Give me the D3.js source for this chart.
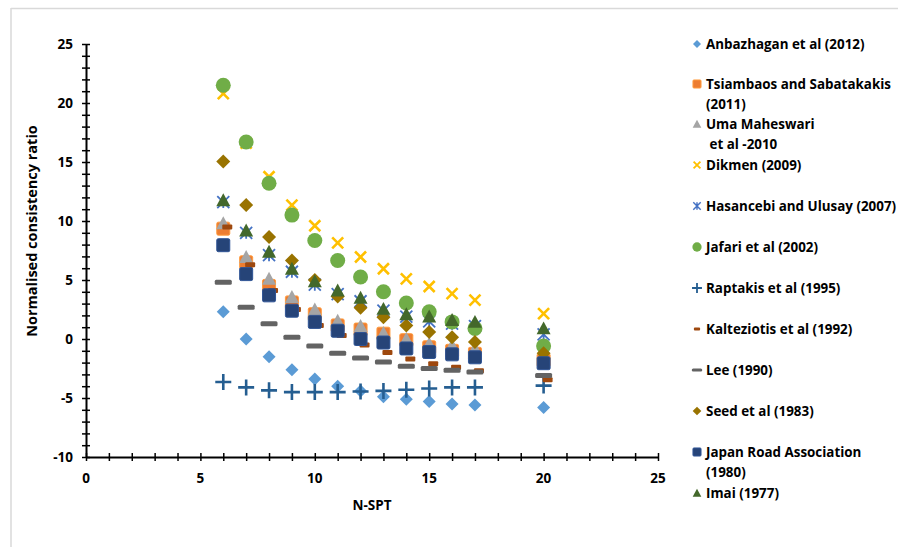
<!DOCTYPE html>
<html>
<head>
<style>
body { margin:0; background:#fff; }
svg text { font-family: "Open Sans", "Noto Sans", sans-serif; font-weight:bold; fill:#000; }
</style>
</head>
<body>
<svg id="chart" width="898" height="547"></svg>
<script src="https://d3js.org/d3.v7.min.js"></script>
<script>

// N-SPT values
let nspt = [6, 7, 8, 9, 10, 11, 12, 13, 14, 15, 16, 17, 20];

// normalised consistency ratio, per study
let anbazhagan  = [2.3, 0.0, -1.5, -2.6, -3.4, -4.0, -4.4, -4.9, -5.1, -5.3, -5.5, -5.6, -5.8];
let tsiambaos   = [9.35, 6.5, 4.5, 3.1, 2.1, 1.15, 0.8, 0.45, -0.1, -0.7, -1.0, -1.25, -1.8];
let umaMaheswari = [9.8, 6.95, 5.1, 3.55, 2.5, 1.55, 1.1, 0.5, 0.0, -0.4, -0.55, -0.8, -1.9];
let dikmen      = [20.8, 16.6, 13.75, 11.35, 9.6, 8.15, 6.95, 5.95, 5.1, 4.45, 3.85, 3.3, 2.15];
let hasancebi   = [11.6, 9.0, 7.1, 5.7, 4.6, 3.8, 3.2, 2.4, 1.9, 1.5, 1.3, 1.1, 0.4];
let jafari      = [21.5, 16.7, 13.2, 10.5, 8.35, 6.65, 5.25, 4.0, 3.05, 2.3, 1.45, 0.9, -0.6];
let raptakis    = [-3.65, -4.1, -4.35, -4.5, -4.5, -4.5, -4.45, -4.4, -4.3, -4.2, -4.1, -4.1, -3.95];
let kalteziotis = [9.5, 6.3, 4.1, 2.5, 1.15, 0.3, -0.5, -1.15, -1.7, -2.1, -2.4, -2.7, -3.45];
let lee         = [4.8, 2.7, 1.3, 0.15, -0.6, -1.2, -1.6, -1.95, -2.3, -2.5, -2.65, -2.8, -3.1];
let seed        = [15.05, 11.35, 8.65, 6.65, 5.0, 3.6, 2.65, 1.85, 1.15, 0.6, 0.15, -0.25, -1.2];
let japanRoad   = [7.95, 5.5, 3.7, 2.4, 1.45, 0.7, 0.0, -0.3, -0.8, -1.1, -1.3, -1.55, -2.05];
let imai        = [11.75, 9.2, 7.4, 5.95, 4.9, 4.1, 3.5, 2.55, 2.1, 1.9, 1.6, 1.45, 0.9];

let xTicks = [0, 5, 10, 15, 20, 25];
let yTicks = [-10, -5, 0, 5, 10, 15, 20, 25];

let series = [
  {name: ["Anbazhagan et al (2012)"], values: anbazhagan, kind: "diamond", color: "#5B9BD5"},
  {name: ["Tsiambaos and Sabatakakis", "(2011)"], values: tsiambaos, kind: "square", color: "#ED7D31"},
  {name: ["Uma Maheswari", " et al -2010"], values: umaMaheswari, kind: "triangle", color: "#A5A5A5"},
  {name: ["Dikmen (2009)"], values: dikmen, kind: "x", color: "#FFC000"},
  {name: ["Hasancebi and Ulusay (2007)"], values: hasancebi, kind: "star", color: "#4472C4"},
  {name: ["Jafari et al (2002)"], values: jafari, kind: "circle", color: "#70AD47"},
  {name: ["Raptakis et al (1995)"], values: raptakis, kind: "plus", color: "#255E91"},
  {name: ["Kalteziotis et al (1992)"], values: kalteziotis, kind: "shortdash", color: "#9E480E"},
  {name: ["Lee (1990)"], values: lee, kind: "dash", color: "#636363"},
  {name: ["Seed et al (1983)"], values: seed, kind: "diamond2", color: "#997300"},
  {name: ["Japan Road Association", "(1980)"], values: japanRoad, kind: "square", color: "#264478"},
  {name: ["Imai (1977)"], values: imai, kind: "triangle", color: "#43682B"}
];

let svg = d3.select("#chart");

// chart frame
svg.append("line").attr("x1", 11).attr("x2", 898).attr("y1", 8.5).attr("y2", 8.5)
  .attr("stroke", "#d9d9d9").attr("stroke-width", 1.5);
svg.append("line").attr("x1", 11).attr("x2", 11).attr("y1", 8).attr("y2", 547)
  .attr("stroke", "#d9d9d9").attr("stroke-width", 1.5);

let x = d3.scaleLinear().domain([0, 25]).range([86, 658]);
let y = d3.scaleLinear().domain([-10, 25]).range([457, 44]);

// axes, ticks cross the axis line
let xAxisG = svg.append("g").attr("transform", "translate(0," + y(-10) + ")");
xAxisG.call(d3.axisBottom(x).tickValues(d3.range(0, 26)).tickSizeInner(4).tickSizeOuter(0).tickFormat(""));
xAxisG.selectAll(".tick line").attr("y1", -4).attr("stroke", "#000").attr("stroke-width", 1.5);
xAxisG.select(".domain").attr("stroke", "#000").attr("stroke-width", 2);

let yAxisG = svg.append("g").attr("transform", "translate(" + x(0) + ",0)");
yAxisG.call(d3.axisLeft(y).tickValues(d3.range(-10, 26)).tickSizeInner(4).tickSizeOuter(0).tickFormat(""));
yAxisG.selectAll(".tick line").attr("x1", 4).attr("stroke", "#000").attr("stroke-width", 1.5);
yAxisG.select(".domain").attr("stroke", "#000").attr("stroke-width", 2);

svg.selectAll(".xlab").data(xTicks).enter().append("text")
  .attr("x", d => x(d)).attr("y", y(-10) + 26)
  .attr("text-anchor", "middle").attr("font-size", 13.5).text(d => d);

svg.selectAll(".ylab").data(yTicks).enter().append("text")
  .attr("x", x(0) - 13).attr("y", d => y(d) + 5)
  .attr("text-anchor", "end").attr("font-size", 13.5).text(d => d);

svg.append("text").attr("x", 372).attr("y", 510).attr("text-anchor", "middle")
  .attr("font-size", 13.5).text("N-SPT");
svg.append("text").attr("transform", "translate(37,231) rotate(-90)")
  .attr("text-anchor", "middle").attr("font-size", 14.5).text("Normalised consistency ratio");

// draw a marker of given kind into group g, scale s
function drawMarker(g, kind, color, s) {
  if (kind === "diamond" || kind === "diamond2") {
    let r = (kind === "diamond" ? 6.5 : 7) * s;
    g.append("path").attr("d", "M0," + -r + "L" + r + ",0L0," + r + "L" + -r + ",0Z")
      .attr("fill", color);
  } else if (kind === "square") {
    let h = 6.5 * s;
    g.append("rect").attr("x", -h).attr("y", -h).attr("width", 2 * h).attr("height", 2 * h)
      .attr("rx", 1.5 * s).attr("fill", color)
      .attr("stroke", d3.color(color).brighter(0.6)).attr("stroke-width", 1);
  } else if (kind === "triangle") {
    let r = 7 * s;
    g.append("path").attr("d", "M0," + -r + "L" + r + "," + r * 0.85 + "L" + -r + "," + r * 0.85 + "Z")
      .attr("fill", color);
  } else if (kind === "x") {
    let r = 5.5 * s;
    g.append("path").attr("d", "M" + -r + "," + -r + "L" + r + "," + r + "M" + r + "," + -r + "L" + -r + "," + r)
      .attr("stroke", color).attr("stroke-width", 2.6 * Math.max(s, 0.7)).attr("fill", "none");
  } else if (kind === "star") {
    let r = 6 * s;
    g.append("path").attr("d", "M" + -r + "," + -r + "L" + r + "," + r + "M" + r + "," + -r + "L" + -r + "," + r +
      "M0," + -r + "L0," + r)
      .attr("stroke", color).attr("stroke-width", 1.8 * Math.max(s, 0.8)).attr("fill", "none");
  } else if (kind === "circle") {
    g.append("circle").attr("r", 7.5 * s).attr("fill", color);
  } else if (kind === "plus") {
    let r = 8 * s;
    g.append("path").attr("d", "M" + -r + ",0L" + r + ",0M0," + -r + "L0," + r)
      .attr("stroke", color).attr("stroke-width", 2.6 * Math.max(s, 0.7)).attr("fill", "none");
  } else if (kind === "shortdash") {
    g.append("rect").attr("x", -5 * s).attr("y", -2.5 * s).attr("width", 10 * s).attr("height", 5 * s)
      .attr("rx", 1).attr("fill", color);
  } else if (kind === "dash") {
    g.append("rect").attr("x", -8.5 * s).attr("y", -2.5 * s).attr("width", 17 * s).attr("height", 5 * s)
      .attr("rx", 1.5).attr("fill", color);
  }
}

// points
series.forEach(function(ser) {
  let dx = ser.kind === "shortdash" ? 4 : 0;
  let pts = svg.append("g").selectAll("g").data(ser.values).enter().append("g")
    .attr("transform", (d, i) => "translate(" + (x(nspt[i]) + dx) + "," + y(d) + ")");
  pts.each(function() { drawMarker(d3.select(this), ser.kind, ser.color, 1); });
});

// legend
let legendY = [44, 84, 124, 165, 206, 247, 288, 329, 370, 411, 452, 493];
series.forEach(function(ser, i) {
  let g = svg.append("g").attr("transform", "translate(697," + legendY[i] + ")");
  drawMarker(g, ser.kind, ser.color, 0.62);
  ser.name.forEach(function(line, j) {
    g.append("text").attr("x", 9).attr("y", 4.8 + j * 20)
      .attr("font-size", 13.4).attr("xml:space", "preserve").text(line);
  });
});

</script>
</body>
</html>
